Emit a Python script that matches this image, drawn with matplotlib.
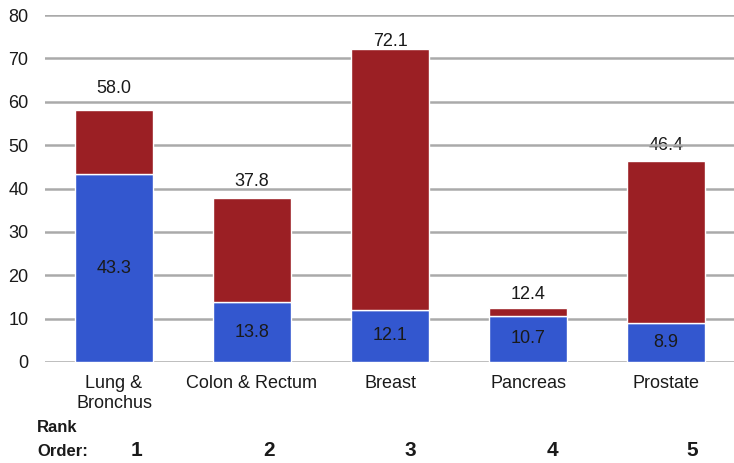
import matplotlib.pyplot as plt

plt.rcParams["font.family"] = ["Liberation Sans", "DejaVu Sans"]

sites = ["Lung &\nBronchus", "Colon & Rectum", "Breast", "Pancreas", "Prostate"]
mortality = [43.3, 13.8, 12.1, 10.7, 8.9]
totals = [58.0, 37.8, 72.1, 12.4, 46.4]
rank_order = ["1", "2", "3", "4", "5"]
# vertical nudge of the total labels above each bar (data units)
total_label_offset = [5.0, 3.9, 1.8, 3.1, 3.6]

upper = [t - m for t, m in zip(totals, mortality)]
x = list(range(len(sites)))
txt = "#1a1a1a"

fig = plt.figure(figsize=(7.34, 4.63), dpi=100)
ax = fig.add_axes([45 / 734, 1 - 362 / 463, 690 / 734, 347 / 463])

ax.bar(x, mortality, width=0.56, color="#3357cf", edgecolor="white", linewidth=1.0, zorder=3)
ax.bar(x, upper, bottom=mortality, width=0.56, color="#9b1f24", edgecolor="white", linewidth=1.0, zorder=3)

for xi, m in zip(x, mortality):
    ax.text(xi, m / 2, f"{m:.1f}", ha="center", va="center", fontsize=13, color=txt, zorder=4)
# totals sit under the gridlines, as in the original
for xi, t, off in zip(x, totals, total_label_offset):
    ax.text(xi, t + off, f"{t:.1f}", ha="center", va="center", fontsize=13, color=txt, zorder=1)

ax.set_xlim(-0.5, 4.5)
ax.set_ylim(0, 80)
ax.set_yticks(range(0, 81, 10))
ax.set_axisbelow(False)
ax.grid(axis="y", color="#aaaaaa", linewidth=1.8)
for s in ax.spines.values():
    s.set_visible(False)
ax.tick_params(axis="y", length=0, labelsize=13, pad=12, labelcolor=txt)
ax.tick_params(axis="x", length=0, labelsize=13, pad=9, labelcolor=txt)
ax.set_xticks(x, sites, linespacing=1.25, va="top")

fig.text(37 / 734, 1 - 427 / 463, "Rank", fontsize=12, fontweight="bold", va="center", color=txt)
fig.text(37 / 734, 1 - 451 / 463, "Order:", fontsize=12, fontweight="bold", va="center", color=txt)
rank_x = [136, 269, 410, 552, 692]
for rx, r in zip(rank_x, rank_order):
    fig.text(rx / 734, 1 - 450 / 463, r, fontsize=15, fontweight="bold", ha="center", va="center", color=txt)

fig.savefig("out.png", dpi=100)
